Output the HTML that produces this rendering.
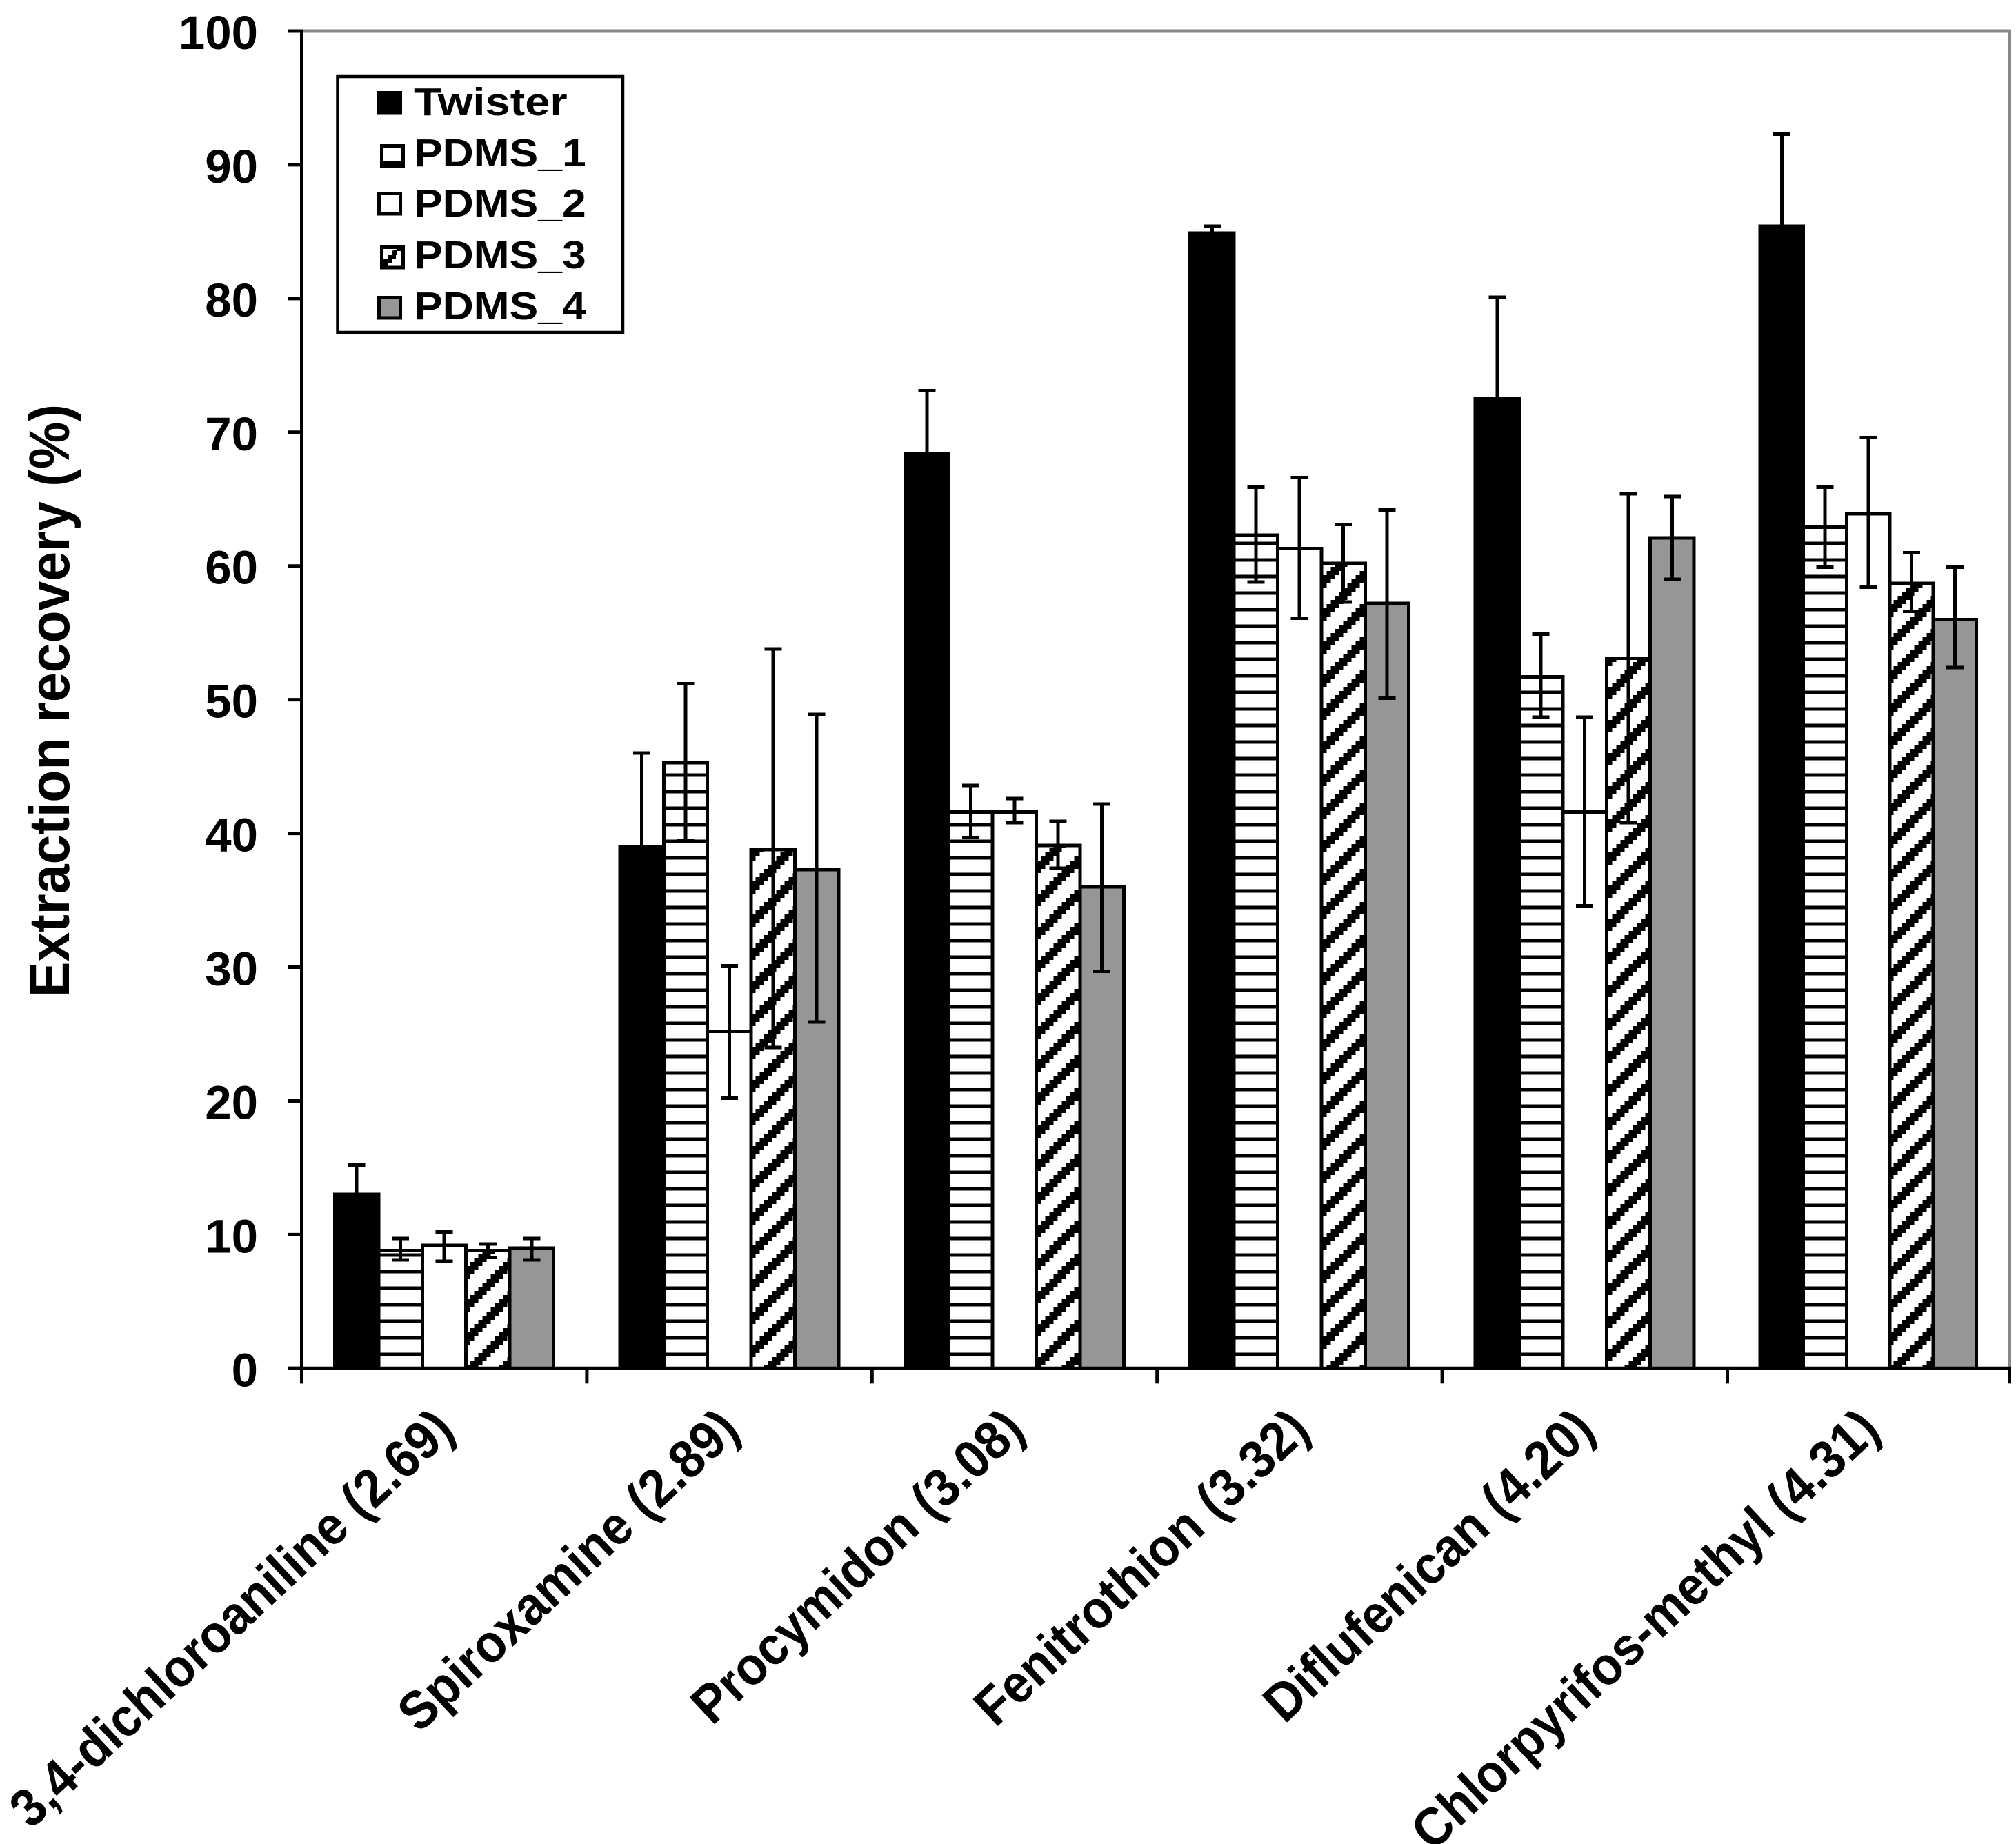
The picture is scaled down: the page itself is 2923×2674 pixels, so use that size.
<!DOCTYPE html>
<html lang="en">
<head>
<meta charset="utf-8">
<title>Extraction recovery chart</title>
<style>
html,body{margin:0;padding:0;background:#fff;}
svg{display:block;}
text{font-family:"Liberation Sans",Arial,sans-serif;font-weight:bold;fill:#000;}
</style>
</head>
<body>
<svg id="chart" xmlns="http://www.w3.org/2000/svg" width="2923" height="2674" viewBox="0 0 2923 2674">
  <defs>
    <pattern id="hatch-horizontal" patternUnits="userSpaceOnUse" x="0" y="0" width="48" height="24">
      <rect width="48" height="24" fill="#fff"/>
      <rect x="0" y="17.5" width="48" height="5" fill="#000"/>
    </pattern>
    <pattern id="hatch-diagonal" patternUnits="userSpaceOnUse" x="3.5" y="0" width="48" height="48"></pattern>
  </defs>
  <rect x="0" y="0" width="2923" height="2674" fill="#fff"/>
  <g id="frame"></g>
  <g id="bars"></g>
  <g id="errors"></g>
  <g id="axes"></g>
  <text transform="translate(100,1446) rotate(-90)" font-size="83" textLength="860" lengthAdjust="spacingAndGlyphs">Extraction recovery (%)</text>
  <g id="xlabels"></g>
  <g id="legend">
    <rect x="489.5" y="111" width="413.5" height="371" fill="#fff" stroke="#000" stroke-width="4.5"/>
    <g>
      <rect x="549.5" y="134.5" width="31" height="29.5" fill="#000" stroke="#000" stroke-width="5"/>
      <text transform="translate(600,167) scale(1.14,1)" font-size="57">Twister</text>
    </g>
    <g>
      <rect x="553.5" y="211.5" width="31" height="29.5" fill="#fff" stroke="#000" stroke-width="5"/>
      <rect x="553.5" y="233" width="31" height="8" fill="#000"/>
      <text transform="translate(600,241) scale(1.095,1)" font-size="57">PDMS_1</text>
    </g>
    <g>
      <rect x="549.5" y="280.5" width="31" height="29.5" fill="#fff" stroke="#000" stroke-width="5"/>
      <text transform="translate(600,314) scale(1.095,1)" font-size="57">PDMS_2</text>
    </g>
    <g>
      <rect x="553.5" y="358.5" width="31" height="29.5" fill="#fff" stroke="#000" stroke-width="5"/>
      <polygon points="555,388 555,376 562,376 562,370 568,370 568,364 585,358 585,364 576,364 576,370 574,370 574,376 568,376 568,382 562,382 562,388" fill="#000"/>
      <text transform="translate(600,389) scale(1.095,1)" font-size="57">PDMS_3</text>
    </g>
    <g>
      <rect x="549.5" y="431.5" width="31" height="29.5" fill="#969696" stroke="#000" stroke-width="5"/>
      <text transform="translate(600,463) scale(1.095,1)" font-size="57">PDMS_4</text>
    </g>
  </g>
</svg>
<script>
// ---- chart data ----
const categories = ["3,4-dichloroaniline (2.69)", "Spiroxamine (2.89)", "Procymidon (3.08)", "Fenitrothion (3.32)", "Diflufenican (4.20)", "Chlorpyrifos-methyl (4.31)"];
const yTickLabels = [0, 10, 20, 30, 40, 50, 60, 70, 80, 90, 100];

const twisterValues = [13.0, 39.0, 68.4, 84.9, 72.5, 85.4];
const twisterErrUp = [2.2, 7.0, 4.7, 0.5, 7.6, 6.9];
const twisterErrDown = [2.2, 7.0, 4.7, 0.5, 7.6, 6.9];

const pdms1Values = [8.8, 45.3, 41.6, 62.3, 51.7, 62.9];
const pdms1ErrUp = [0.9, 5.9, 2.0, 3.6, 3.2, 3.0];
const pdms1ErrDown = [0.7, 5.8, 1.9, 3.5, 3.0, 3.0];

const pdms2Values = [9.2, 25.2, 41.6, 61.3, 41.6, 63.9];
const pdms2ErrUp = [1.0, 4.9, 1.0, 5.3, 7.1, 5.7];
const pdms2ErrDown = [1.2, 5.0, 0.8, 5.2, 7.0, 5.5];

const pdms3Values = [8.8, 38.8, 39.1, 60.2, 53.1, 58.7];
const pdms3ErrUp = [0.5, 15.0, 1.8, 2.9, 12.3, 2.3];
const pdms3ErrDown = [0.5, 14.8, 1.7, 2.9, 12.3, 2.1];

const pdms4Values = [9.0, 37.3, 36.0, 57.2, 62.1, 56.0];
const pdms4ErrUp = [0.7, 11.6, 6.2, 7.0, 3.1, 3.9];
const pdms4ErrDown = [0.9, 11.4, 6.3, 7.1, 3.1, 3.6];

const seriesNames = ["twister", "pdms-1", "pdms-2", "pdms-3", "pdms-4"];
const seriesValues = [twisterValues, pdms1Values, pdms2Values, pdms3Values, pdms4Values];
const seriesErrUp = [twisterErrUp, pdms1ErrUp, pdms2ErrUp, pdms3ErrUp, pdms4ErrUp];
const seriesErrDown = [twisterErrDown, pdms1ErrDown, pdms2ErrDown, pdms3ErrDown, pdms4ErrDown];
const seriesFills = ["#000", "url(#hatch-horizontal)", "#fff", "url(#hatch-diagonal)", "#969696"];

// ---- layout and axis functions ----
const SVGNS = "http://www.w3.org/2000/svg";
const plotLeft = 437.5, plotRight = 2913.5, plotTop = 45, plotBottom = 1984.3;
const yMax = 100;
const catStep = 413.4;
const insetRatio = 48 / 413.4, barRatio = 63.4 / 413.4;
function yScale(v) { return plotBottom - (v / yMax) * (plotBottom - plotTop); }
function catLeft(i) { return i >= categories.length ? plotRight : plotLeft + i * catStep; }
function catSpan(i) { return catLeft(i + 1) - catLeft(i); }
function barW(i) { return catSpan(i) * barRatio; }
function barLeft(i, s) { return catLeft(i) + catSpan(i) * insetRatio + s * barW(i); }
function mk(tag, attrs, parent) {
  const el = document.createElementNS(SVGNS, tag);
  for (const k in attrs) el.setAttribute(k, attrs[k]);
  parent.appendChild(el);
  return el;
}

// diagonal stair-step hatch
const diag = document.getElementById("hatch-diagonal");
mk("rect", { width: 48, height: 48, fill: "#fff", "shape-rendering": "crispEdges" }, diag);
for (let r = 0; r < 8; r++) {
  for (let n = 0; n < 3; n++) {
    const c = (((2 - r + n) % 8) + 8) % 8;
    mk("rect", { x: c * 6, y: r * 6, width: 6.2, height: 6.2, fill: "#000", "shape-rendering": "crispEdges" }, diag);
  }
}

// frame
const frame = document.getElementById("frame");
const frameTop = mk("line", { x1: plotLeft, x2: plotRight + 2.5, y1: plotTop, y2: plotTop, stroke: "#888", "stroke-width": 5 }, frame);


const frameRight = mk("line", { x1: plotRight, x2: plotRight, y1: plotTop, y2: plotBottom, stroke: "#888", "stroke-width": 5 }, frame);



// bars
const barsG = document.getElementById("bars");
seriesValues.forEach(function (vals, s) {
  vals.forEach(function (v, i) {
    const top = yScale(v);
    const bar = mk("rect", {
      x: barLeft(i, s), y: top, width: barW(i), height: plotBottom - top,
      fill: seriesFills[s], stroke: "#000", "stroke-width": 5, "shape-rendering": "crispEdges"
    }, barsG);
    
    
  });
});

// error bars
const errG = document.getElementById("errors");
seriesValues.forEach(function (vals, s) {
  vals.forEach(function (v, i) {
    const cx = barLeft(i, s) + barW(i) / 2;
    const hi = yScale(v + seriesErrUp[s][i]);
    const lo = yScale(v - seriesErrDown[s][i]);
    const err = mk("path", {
      d: "M" + (cx - 12.5) + " " + hi + "H" + (cx + 12.5) + "M" + cx + " " + hi + "V" + lo + "M" + (cx - 12.5) + " " + lo + "H" + (cx + 12.5),
      fill: "none", stroke: "#000", "stroke-width": 5, "shape-rendering": "crispEdges"
    }, errG);
    
    
  });
});

// axes
const axes = document.getElementById("axes");
const yAxis = mk("line", { x1: plotLeft, x2: plotLeft, y1: plotTop - 2.5, y2: plotBottom + 22, stroke: "#000", "stroke-width": 5 }, axes);


const xAxis = mk("line", { x1: 418, x2: plotRight + 2.5, y1: plotBottom, y2: plotBottom, stroke: "#000", "stroke-width": 5 }, axes);


yTickLabels.forEach(function (t) {
  const y = yScale(t);
  const tick = mk("line", { x1: 418, x2: plotLeft, y1: y, y2: y, stroke: "#000", "stroke-width": 5 }, axes);
  
  
  const lab = mk("text", { x: 374, y: y + 26, "text-anchor": "end", "font-size": 69 }, axes);
  
  
  lab.textContent = String(t);
});
for (let i = 0; i <= categories.length; i++) {
  const x = catLeft(i);
  const tick = mk("line", { x1: x, x2: x, y1: plotBottom, y2: plotBottom + 22, stroke: "#000", "stroke-width": 5 }, axes);
  
  
}

// category labels
const xl = document.getElementById("xlabels");
categories.forEach(function (c, i) {
  const ax = catLeft(i) + catStep / 2 + 18;
  const lab = mk("text", {
    transform: "translate(" + ax + ",2078) rotate(-43) scale(1,1.08)",
    "text-anchor": "end", "font-size": 72
  }, xl);
  
  
  lab.textContent = c;
});
</script>
</body>
</html>
